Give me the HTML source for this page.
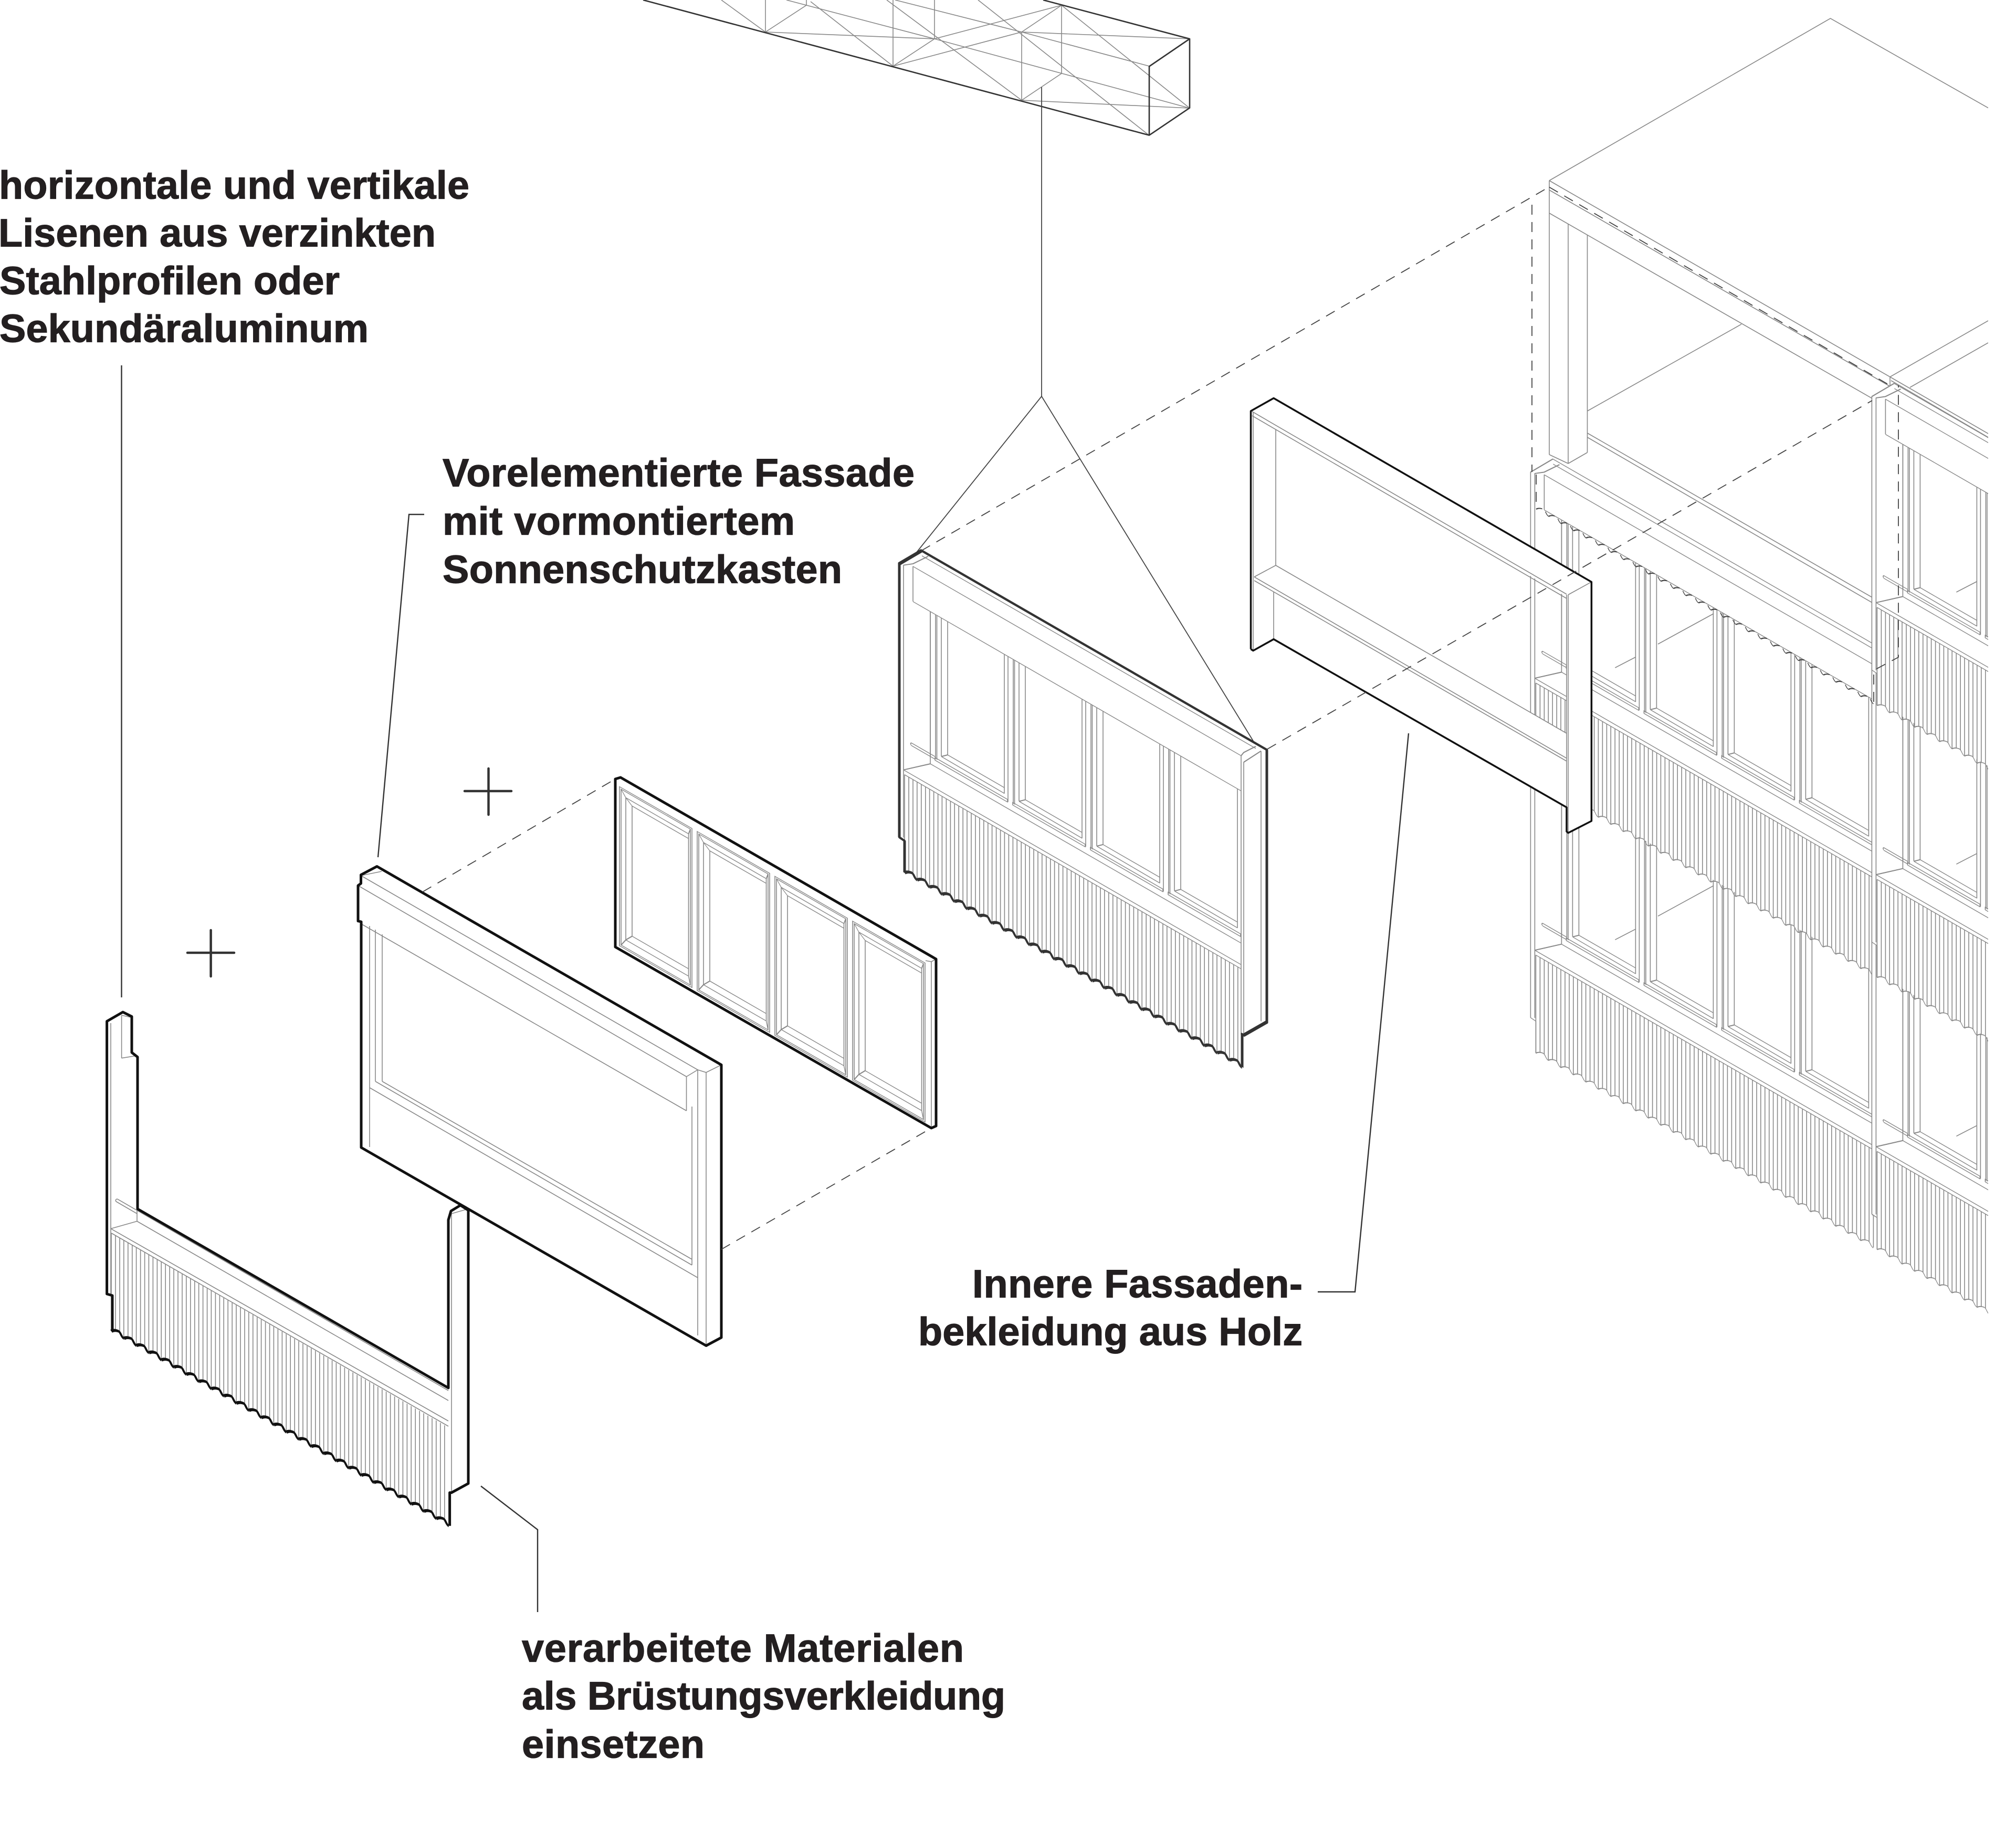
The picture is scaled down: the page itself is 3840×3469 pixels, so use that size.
<!DOCTYPE html>
<html><head><meta charset="utf-8"><style>
html,body{margin:0;padding:0;background:#fff}
svg{display:block}
.g{stroke:#888;stroke-width:1.6;fill:none}
.t{font-family:"Liberation Sans",sans-serif;font-weight:700;font-size:75.5px;fill:#231f20;stroke:#231f20;stroke-width:1.2}
</style></head><body>
<svg xmlns="http://www.w3.org/2000/svg" width="3840" height="3469" viewBox="0 0 3840 3469">
<defs>
<clipPath id="bc"><rect x="0" y="0" width="3787" height="3469"/></clipPath>
<g id="l1"><path class="g" d="M0 0V187M8 0V181.5M16 0V180.5"/></g>
<g id="l3"><use href="#l1"/><use href="#l1" x="23.8"/><use href="#l1" x="47.6"/></g>
<g id="l9"><use href="#l3"/><use href="#l3" x="71.4"/><use href="#l3" x="142.8"/></g>
<g id="l27"><use href="#l9"/><use href="#l9" x="214.2"/><use href="#l9" x="428.4"/></g>
<g id="w1"><path fill="none" d="M0 187C3 183.5 8 180 14 179C18 179 19 187 23.8 187"/></g>
<g id="w3"><use href="#w1"/><use href="#w1" x="23.8"/><use href="#w1" x="47.6"/></g>
<g id="w9"><use href="#w3"/><use href="#w3" x="71.4"/><use href="#w3" x="142.8"/></g>
<g id="w27"><use href="#w9"/><use href="#w9" x="214.2"/><use href="#w9" x="428.4"/></g>
<g id="ab"><path class="g" d="M7 1131V1408M17 1131V1406M19.5 1131V1406M28 1131V1395M40 1131V1385H148M28 1395L40 1385M28 1395L148 1396M16 1404H154V1409H16Z"/></g>
<g id="A"><g transform="matrix(1 .577 0 1 1713 0)" stroke-linejoin="round">
<path fill="#fff" stroke="none" d="M0 1074L42.5 1024.5H700V1543L656 1593.5H653V1650H10V1596L0 1595Z"/>
<path class="g" d="M8 1072V1591M8 1072L26 1059L55 1028M26 1064V1131M26 1064H651M26 1131H651M43 1034H679M651 1064V1596M656 1073.5V1596M689 1033V1548M656 1073.5L689 1033M651 1064L656 1055L679 1030M59 1131V1421M59 1421H651M8 1462L59 1421M8 1462H651M10 1470H651M200 1131V1396M348 1131V1396M496 1131V1396M644 1131V1396M68 1402H24a2.5 2.5 0 0 0 0 5H68"/>
<use href="#ab" x="52"/><use href="#ab" x="200"/><use href="#ab" x="348"/><use href="#ab" x="496"/>
<use href="#l27" transform="translate(10 1470)"/>
<path fill="none" d="M10 1657V1596L0 1595V1074L42.5 1024.5H700V1543L656 1593.5H653V1656"/>
<use href="#w27" transform="translate(10 1470)"/>
</g></g>
<g id="I"><path class="g" d="M1874 1446.6L1912.6 1426.6M1955.6 1401.6L2061.6 1343.6"/></g>
<g id="C"><use href="#A"/><use href="#I"/></g>
<g id="bb"><path class="g" d="M0 19H138V322H0ZM3 22H135V319H3ZM12 33H131.5V304H12ZM24 42H131.5V290H24ZM3 22L12 33M12 33L24 42M3 319L12 304M12 304L24 290M131.5 33L135 22M131.5 304L135 319" transform="translate(0 1475)"/></g>
</defs>

<!-- beam -->
<path class="g" d="M1458 61L1780 74M1946 61L2266 74M1946 191L2266 206M1701 126L1780 74L2022 10M1701 126L1946 61M1458 61L1536 10M1946 61L2022 10M1946 191L2022 140M1458 0V61M1701 0V126M1780 0V74M1946 61V191M2022 10V140M1536 0V10M1374 0L1458 61M1544 3L1701 126M1689 0L1946 191M1498 0L1780 74L2266 206M1705 0L1946 61L2189 126M1863 0L2189 258M2022 10L2266 206"/>
<path fill="none" stroke="#333" stroke-width="2.6" stroke-linejoin="round" d="M1225 0L2189 257.6V126.5L2266 74L1987 0M2266 74V205.6L2189 257.6"/>
<path fill="none" stroke="#444" stroke-width="1.8" d="M1984 166V755L1746 1052M1984 755L2399 1431"/>

<!-- building skeleton -->
<g clip-path="url(#bc)">
<path class="g" d="M2951 344L3486.5 35L3787 205.6M2951 344L3600 718L3787 611M3600 718L3787 826M3602 725L3787 833M3600 718V735M3638 738L3787 653M2951 344V866M2951 362L3600 736M2951 406L3566 759M2987 427V883M3023.5 448V862M2987 883L3023.5 862M2951 866L2987 883M3023.5 783L3317 617.6M3023.5 825L3566 1138M3023.5 833L3566 1148"/>
<g stroke="#888" stroke-width="1.6">
<use href="#C" transform="translate(1202.4 343.6)"/>
<use href="#C" transform="translate(1202.4 -174.6)"/>
<use href="#C" transform="translate(1852.4 717.8)"/>
<use href="#C" transform="translate(1852.4 199.6)"/>
<use href="#C" transform="translate(1852.4 -318.6)"/>
</g>
<!-- dashed hidden outline on building -->
<g fill="none" stroke="#444" stroke-width="1.8" stroke-dasharray="19 14">
<path d="M2918 390V899M2926 904V970"/>
<path d="M3569 1337V1277L3616 1252V734"/>
<use href="#w27" transform="matrix(1 .577 0 1 2926 783)" stroke-dasharray="14 7"/>
</g>
</g>

<!-- panel E -->
<path fill="#fff" fill-rule="evenodd" d="M2382.5 783L2426 758.5L3031.4 1108.6V1564L2987 1586.7L2984 1584V1538L2426 1217.7L2387 1239.5L2382.5 1236.6ZM2430 817.6L2984 1137V1397L2430 1077Z"/>
<path class="g" d="M2387 786V1239.5M2385 784L2984 1132M2385 792L2984 1140M2430 817.6V1077M2426 1127.5V1217.7M2389 1099L2430 1077M2389 1099L2984 1444.4M2389 1106L2984 1450M2430 1077L2984 1397M2984 1133V1584M2987 1133V1586M2987 1133L3031.4 1108.6"/>
<path fill="none" stroke="#111" stroke-width="3.5" stroke-linejoin="round" d="M2382.5 1236.6V783L2426 758.5L3031.4 1108.6V1564L2987 1586.7L2984 1584V1538L2426 1217.7L2387 1239.5L2382.5 1236.6"/>

<!-- panel A -->
<use href="#A" stroke="#333" stroke-width="5"/>

<!-- panel B -->
<path fill="#fff" d="M1172 1484L1182 1481L1783 1827V2145L1774 2149L1172 1804Z"/>
<g transform="matrix(1 .577 0 1 1172 0)">
<use href="#bb" x="8"/><use href="#bb" x="156"/><use href="#bb" x="304"/><use href="#bb" x="452"/>
</g>
<path class="g" d="M1763 1830L1774 1832L1783 1827M1774 1832V2149"/>
<path fill="none" stroke="#111" stroke-width="5" stroke-linejoin="round" d="M1172 1484L1182 1481L1783 1827V2145L1774 2149L1172 1804Z"/>

<!-- panel C -->
<path fill="#fff" d="M687.5 1666.6L718 1650.5L1374 2028.6V2548L1345 2563.5L688 2186V1756L682 1754.6V1687L687.5 1683Z"/>
<path class="g" d="M682 1687L1307.5 2051M687.5 1668L1329 2038M688 1760L1307.5 2116M1307.5 2051V2116M1307.5 2051L1329 2038M1329 2038V2544M1345 2043V2563M1329 2038L1345 2043L1374 2028.6M704 1764V2185M715 1771V2060M728 1780V2060M715 2060L1318 2410M728 2060L1318 2399M704 2072L1329 2434M1318 2108V2410M687.5 1668L727 1660"/>
<path fill="none" stroke="#111" stroke-width="5" stroke-linejoin="round" d="M687.5 1666.6L718 1650.5L1374 2028.6V2548L1345 2563.5L688 2186V1756L682 1754.6V1687L687.5 1683Z"/>

<!-- panel D -->
<path fill="#fff" d="M262 2303L854 2644V2324L859 2307L877 2296L892 2305.5V2826L860 2843.5H856.6V2900L214 2530V2468L203.6 2465V1945.6L234 1928L251 1936.5V2005L262 2013.6Z"/>
<path class="g" d="M211 1949V2465M231.6 1934V2015.7M231.6 2015.7L261 2011M231.6 1934L249 1938M224 2284.4L854 2649M224 2284.4a2.5 2.5 0 0 0 -2 5L261 2312M261 2300V2326.5M211 2340.6L261 2326.5M261 2326.5L854 2668M211 2340.6L854 2707M212 2349L854 2717M860 2312V2843M860 2312L888 2304"/>
<use href="#l27" transform="matrix(1 .577 0 1 212 2349)"/>
<g fill="none" stroke="#111" stroke-width="5" stroke-linejoin="round">
<path d="M214 2535V2468L203.6 2465V1945.6L234 1928L251 1936.5V2005L262 2013.6V2303L854 2644V2324L859 2307L877 2296L892 2305.5V2826L860 2843.5H856.6V2906.7"/>
<use href="#w27" transform="matrix(1 .577 0 1 212 2349)"/>
</g>

<!-- dashed connectors -->
<g fill="none" stroke="#444" stroke-width="1.8" stroke-dasharray="19 14">
<path d="M1755 1049L2951 356"/>
<path d="M2951 356.5L3599 733.7"/>
<path d="M2414 1427L3566 763"/>
<path d="M805 1699L1172 1484"/>
<path d="M1374 2380L1774 2149"/>
</g>

<!-- leaders -->
<g fill="none" stroke="#333" stroke-width="2.4">
<path d="M231.5 696V1900"/>
<path d="M808 980H779L720 1633"/>
<path d="M916 2831L1024 2914V3071"/>
<path d="M2683 1397L2581 2461H2510"/>
</g>
<g fill="none" stroke="#333" stroke-width="4.5" stroke-linecap="round">
<path d="M885 1507H974M930.5 1464V1552"/>
<path d="M357 1815H446M401.6 1772V1860"/>
</g>

<!-- text -->
<text class="t" x="-2" y="378.5" textLength="896" lengthAdjust="spacing">horizontale und vertikale</text>
<text class="t" x="-3" y="469.5" textLength="833" lengthAdjust="spacing">Lisenen aus verzinkten</text>
<text class="t" x="-1" y="560.5" textLength="648" lengthAdjust="spacing">Stahlprofilen oder</text>
<text class="t" x="-1" y="651.5" textLength="703" lengthAdjust="spacing">Sekundäraluminum</text>
<text class="t" x="843" y="926.5" textLength="899" lengthAdjust="spacing">Vorelementierte Fassade</text>
<text class="t" x="843" y="1018.5" textLength="671" lengthAdjust="spacing">mit vormontiertem</text>
<text class="t" x="843" y="1110.5" textLength="761" lengthAdjust="spacing">Sonnenschutzkasten</text>
<text class="t" x="1852" y="2471.5" textLength="629" lengthAdjust="spacing">Innere Fassaden-</text>
<text class="t" x="1749" y="2562.5" textLength="732" lengthAdjust="spacing">bekleidung aus Holz</text>
<text class="t" x="994" y="3165.5" textLength="842" lengthAdjust="spacing">verarbeitete Materialen</text>
<text class="t" x="994" y="3256.5" textLength="921" lengthAdjust="spacing">als Brüstungsverkleidung</text>
<text class="t" x="994" y="3348.5" textLength="348" lengthAdjust="spacing">einsetzen</text>
</svg>
</body></html>
